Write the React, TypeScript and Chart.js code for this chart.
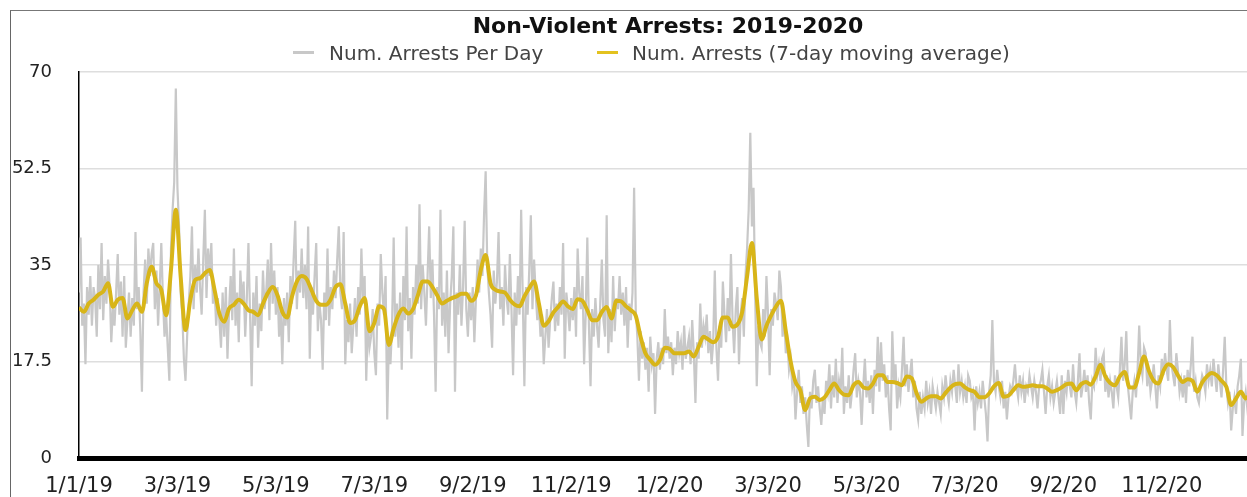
import { useEffect, useRef } from "react";
import { Chart, registerables } from "chart.js";

Chart.register(...registerables);

const chartTitle = "Non-Violent Arrests: 2019-2020";
const seriesNames = ["Num. Arrests Per Day", "Num. Arrests (7-day moving average)"];
const tickLabels = ["1/1/19", "3/3/19", "5/3/19", "7/3/19", "9/2/19", "11/2/19", "1/2/20", "3/3/20", "5/3/20", "7/3/20", "9/2/20", "11/2/20"];
const tickStepDays = 61;
const yTickValues = [0, 17.5, 35, 52.5, 70];

// Daily arrests, one array per month (1/1/19 .. 12/31/20)
const jan19 = [30, 40, 24, 28, 17, 31, 26, 33, 24, 31, 29, 22, 35, 27, 39, 25, 33, 28, 36, 31, 21, 27, 24, 30, 37, 26, 32, 22, 33, 20, 25];
const feb19 = [30, 22, 29, 24, 41, 27, 31, 23, 12, 30, 36, 28, 38, 33, 37, 39, 27, 34, 24, 31, 39, 29, 22, 26, 20, 14, 38, 45];
const mar19 = [50, 67, 49, 42, 30, 26, 18, 14, 22, 28, 33, 42, 27, 35, 30, 38, 31, 26, 36, 45, 29, 38, 33, 39, 28, 31, 24, 29, 25, 20, 30];
const apr19 = [22, 31, 18, 27, 33, 25, 38, 24, 30, 21, 34, 28, 32, 22, 29, 39, 26, 13, 30, 24, 33, 20, 28, 23, 34, 27, 30, 36, 25, 39];
const may19 = [28, 34, 26, 31, 22, 27, 17, 29, 24, 30, 21, 33, 28, 36, 43, 27, 34, 30, 38, 29, 35, 27, 42, 18, 31, 26, 33, 39, 23, 28, 25];
const jun19 = [16, 30, 25, 38, 24, 31, 27, 34, 29, 36, 42, 30, 27, 41, 17, 25, 21, 28, 19, 24, 29, 22, 31, 26, 38, 28, 33, 14, 25, 20];
const jul19 = [22, 27, 19, 15, 28, 24, 37, 30, 26, 33, 7, 21, 17, 24, 40, 22, 28, 20, 30, 16, 33, 25, 42, 23, 29, 18, 31, 26, 35, 28, 46];
const aug19 = [27, 35, 30, 24, 33, 42, 29, 36, 26, 12, 31, 27, 45, 24, 30, 22, 34, 19, 28, 33, 42, 12, 30, 26, 35, 24, 31, 43, 27, 22, 30];
const sep19 = [25, 31, 21, 29, 36, 30, 38, 33, 44, 52, 35, 30, 26, 20, 34, 28, 32, 41, 27, 31, 24, 35, 29, 26, 37, 27, 15, 30, 24, 33];
const oct19 = [26, 45, 29, 13, 31, 26, 34, 44, 27, 36, 30, 25, 28, 22, 26, 17, 22, 27, 20, 25, 29, 32, 23, 28, 24, 31, 26, 39, 18, 30, 27];
const nov19 = [23, 29, 25, 31, 22, 38, 30, 27, 33, 17, 26, 40, 24, 13, 27, 22, 29, 24, 20, 28, 36, 25, 22, 44, 19, 27, 21, 33, 23, 29];
const dec19 = [27, 33, 26, 30, 24, 31, 20, 28, 25, 30, 49, 27, 22, 14, 23, 18, 21, 16, 20, 12, 22, 17, 19, 8, 18, 21, 16, 20, 17, 27, 19];
const jan20 = [22, 18, 21, 15, 20, 17, 23, 19, 21, 16, 24, 18, 20, 22, 17, 25, 19, 10, 21, 18, 28, 20, 24, 22, 26, 19, 23, 17, 21, 34, 20];
const feb20 = [14, 24, 20, 32, 26, 21, 29, 23, 37, 25, 19, 27, 31, 17, 26, 29, 22, 33, 38, 45, 59, 42, 49, 30, 13, 24, 21, 20, 27];
const mar20 = [22, 33, 26, 15, 27, 24, 30, 28, 25, 34, 31, 22, 26, 19, 21, 16, 18, 13, 15, 7, 12, 16, 10, 13, 8, 11, 6, 2, 12, 9, 14];
const apr20 = [16, 10, 13, 9, 6, 11, 8, 14, 12, 17, 9, 15, 11, 18, 10, 14, 12, 20, 8, 13, 10, 15, 9, 12, 16, 19, 11, 14, 12, 6];
const may20 = [13, 18, 11, 14, 10, 15, 8, 16, 13, 22, 12, 21, 14, 17, 11, 15, 9, 5, 23, 14, 17, 9, 13, 11, 16, 22, 13, 17, 12, 15, 18];
const jun20 = [11, 14, 9, 7, 12, 8, 11, 9, 14, 10, 12, 8, 13, 11, 9, 12, 10, 8, 13, 11, 15, 12, 10, 14, 12, 16, 13, 10, 17, 12];
const jul20 = [14, 11, 13, 10, 15, 14, 11, 12, 5, 13, 10, 12, 9, 14, 11, 8, 3, 12, 15, 25, 14, 12, 16, 13, 11, 14, 9, 12, 7, 11, 13];
const aug20 = [12, 14, 17, 13, 11, 15, 12, 14, 10, 13, 12, 15, 13, 11, 14, 12, 9, 13, 14, 16, 12, 8, 13, 15, 11, 13, 10, 12, 14, 11, 8];
const sep20 = [15, 8, 14, 12, 16, 13, 11, 17, 12, 10, 14, 19, 11, 13, 16, 12, 15, 10, 7, 14, 13, 20, 15, 17, 14, 18, 19, 12, 15, 11];
const oct20 = [14, 12, 9, 15, 13, 11, 16, 22, 14, 17, 23, 13, 10, 7, 12, 14, 11, 16, 24, 17, 15, 20, 19, 13, 16, 12, 14, 17, 13, 9, 15];
const nov20 = [13, 18, 15, 19, 16, 14, 25, 17, 15, 13, 19, 16, 12, 14, 11, 15, 10, 16, 13, 17, 22, 12, 14, 11, 10, 13, 15, 14, 12, 17];
const dec20 = [14, 16, 13, 18, 15, 12, 17, 14, 11, 16, 22, 13, 10, 12, 5, 9, 11, 8, 13, 15, 18, 4, 10, 12, 9, 11, 8, 13, 10, 12, 9];

// 7-day moving average, read every 3rd day
const maStepDays = 3;
const ma2019 = [27.3, 26.5, 28, 28.7, 29.6, 30.2, 31.7, 27.4, 28.7, 29, 25.3, 26.8, 28, 26.5, 31.7, 34.7, 31.7, 30.5, 25.9, 34.1, 45, 32.9, 23.2, 28.7, 32.3, 32.6, 33.5, 34.1, 30.5, 26.2, 24.7, 27.1, 27.8, 28.7, 28, 26.8, 26.5, 25.9, 28, 29.9, 31, 29.5, 26.5, 25.5, 29.3, 32, 33, 32.5, 30.5, 28.5, 27.8, 27.8, 28.8, 31, 31.5, 28, 24.5, 25, 27.5, 29, 23, 24.5, 27.5, 27, 20.5, 23.5, 26, 27.1, 26.2, 27, 29.5, 32, 32, 31, 29.5, 28, 28.5, 29, 29.3, 29.8, 29.8, 28.5, 29.5, 34.1, 36.8, 31.7, 30.5, 30.2, 30, 28.7, 27.8, 27.5, 29.3, 30.8, 32, 28, 24, 24.8, 26.4, 27.4, 28.4, 27.5, 27, 28.8, 28.5, 26.8, 25, 25, 26.5, 27.4, 25.3, 28.5, 28.4, 27.5, 26.8, 25.8, 22, 19, 17.8, 16.9, 17.8, 20];
const ma2020 = [19.8, 19, 19, 19, 19.3, 18.4, 20.2, 22, 21.5, 21, 22, 25.5, 25.5, 23.8, 24.2, 26.5, 32.9, 39, 29, 21.5, 24, 25.9, 27.5, 28.5, 23, 17.5, 13.8, 12.3, 8.7, 10.8, 11.1, 10.5, 11, 12.3, 13.5, 12.3, 11.5, 11.4, 13.2, 13.8, 12.8, 12.6, 13.5, 15, 15, 13.8, 13.8, 13.6, 13.2, 14.8, 14.5, 11.8, 10.2, 10.8, 11.2, 11.2, 10.8, 11.8, 12.8, 13.4, 13.5, 12.8, 12.3, 12, 11, 11, 11.7, 13, 13.6, 11.1, 11.3, 12.3, 13.2, 12.9, 13, 13.2, 13, 13, 12.6, 12, 12.3, 12.8, 13.4, 13.5, 12.3, 13.4, 13.8, 13.3, 14.8, 16.9, 14.8, 13.6, 13.2, 14.8, 15.6, 12.8, 12.8, 15.5, 18.4, 15.8, 14, 13.5, 15.8, 17, 16.5, 15, 13.8, 14.3, 14, 12, 13.7, 14.8, 15.4, 15, 14, 12.9, 9.6, 10.8, 12, 10.8, 11.5, 11];

const FONT = "'DejaVu Sans', Verdana, sans-serif";
const GRAY = "#c8c8c8";
const YELLOW = "#d8b518";

export default function App() {
  const canvasRef = useRef<HTMLCanvasElement | null>(null);

  useEffect(() => {
    const daily = [...jan19, ...feb19, ...mar19, ...apr19, ...may19, ...jun19, ...jul19, ...aug19, ...sep19, ...oct19, ...nov19, ...dec19,
      ...jan20, ...feb20, ...mar20, ...apr20, ...may20, ...jun20, ...jul20, ...aug20, ...sep20, ...oct20, ...nov20, ...dec20];
    const dailyPoints = daily.map((v, i) => ({ x: i, y: v }));
    const maPoints = [...ma2019, ...ma2020].map((v, i) => ({ x: i * maStepDays, y: v }));

    const chart = new Chart(canvasRef.current as HTMLCanvasElement, {
      type: "line",
      data: {
        datasets: [
          {
            label: seriesNames[1],
            data: maPoints,
            borderColor: YELLOW,
            borderWidth: 4,
            pointRadius: 0,
            cubicInterpolationMode: "monotone",
            order: 0,
          },
          {
            label: seriesNames[0],
            data: dailyPoints,
            borderColor: GRAY,
            borderWidth: 2.2,
            pointRadius: 0,
            tension: 0,
            order: 1,
          },
        ],
      },
      options: {
        animation: false,
        responsive: false,
        devicePixelRatio: 1,
        layout: { padding: 0 },
        plugins: {
          legend: { display: false },
          tooltip: { enabled: false },
          title: {
            display: true,
            text: chartTitle,
            fullSize: false,
            color: "#111",
            font: { family: FONT, size: 22, weight: "bold", lineHeight: 1.2 },
            padding: { top: 14, bottom: 31.6 },
          },
        },
        scales: {
          x: {
            type: "linear",
            min: 0,
            max: 730,
            afterBuildTicks: (s: any) => {
              s.ticks = tickLabels.map((_, i) => ({ value: i * tickStepDays }));
            },
            afterFit: (s: any) => {
              s.height = 39;
            },
            ticks: {
              autoSkip: false,
              maxRotation: 0,
              padding: 16,
              color: "#222",
              font: { family: FONT, size: 21 },
              callback: (v: any) => tickLabels[Math.round(Number(v) / tickStepDays)],
            },
            grid: { display: false, drawTicks: false },
            border: { display: true, color: "#000", width: 5 },
          },
          y: {
            min: 0,
            max: 70,
            afterBuildTicks: (s: any) => {
              s.ticks = yTickValues.map((v) => ({ value: v }));
            },
            afterFit: (s: any) => {
              s.width = 79;
            },
            ticks: {
              padding: 27,
              color: "#222",
              font: { family: FONT, size: 18 },
              callback: (v: any) => String(v),
            },
            grid: { color: "#dedede", lineWidth: 1.5, drawTicks: false },
            border: { display: true, color: "#000", width: 1.5 },
          },
        },
      },
    } as any);
    return () => chart.destroy();
  }, []);

  const legendText: any = {
    position: "absolute",
    top: 41,
    fontFamily: FONT,
    fontSize: 20,
    lineHeight: "24px",
    color: "#444",
    whiteSpace: "nowrap",
  };
  const legendMark: any = { position: "absolute", top: 51, width: 21, height: 3 };

  return (
    <div style={{ position: "fixed", left: 0, top: 0, width: 1247, height: 497, overflow: "hidden", background: "#fff" }}>
      <div style={{ position: "absolute", left: 10, top: 10, right: -5, bottom: -5, borderLeft: "1px solid #666", borderTop: "1px solid #777" }} />
      <canvas ref={canvasRef} width={1257} height={497} style={{ position: "absolute", left: 0, top: 0, width: 1257, height: 497 }} />
      <div style={{ ...legendMark, left: 293, background: GRAY }} />
      <div style={{ ...legendText, left: 329 }}>{seriesNames[0]}</div>
      <div style={{ ...legendMark, left: 597, background: "#e3c21f" }} />
      <div style={{ ...legendText, left: 632 }}>{seriesNames[1]}</div>
    </div>
  );
}
